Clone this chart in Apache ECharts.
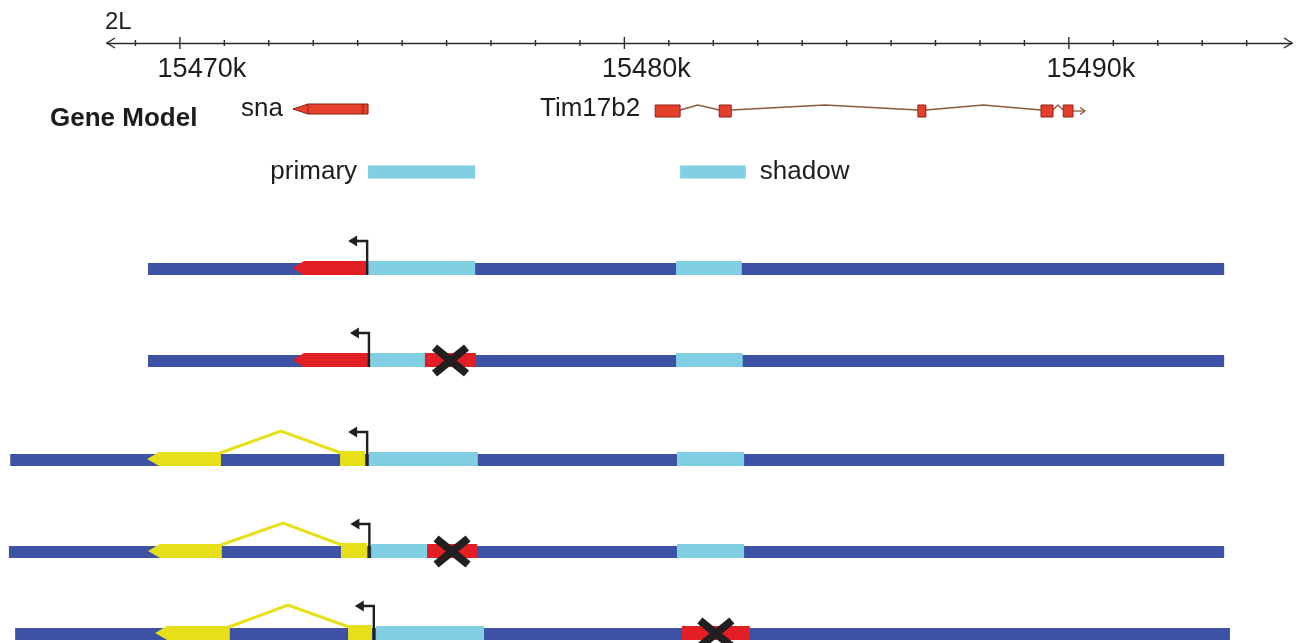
<!DOCTYPE html>
<html><head><meta charset="utf-8">
<script src="https://cdn.jsdelivr.net/npm/echarts@6/dist/echarts.min.js"></script>
<style>html,body{margin:0;padding:0;background:#fff}#c{width:1299px;height:643px}</style>
</head><body><div id="c"></div>
<script>
// ---------------- data (positions in kb on chromosome arm 2L) ----------------
const chromName = '2L';
const rulerTicks = [15469,15470,15471,15472,15473,15474,15475,15476,15477,15478,15479,15480,15481,15482,15483,15484,15485,15486,15487,15488,15489,15490,15491,15492,15493,15494];
const rulerLabels = [15470, 15480, 15490];
const trackTitle = 'Gene Model';
const geneNames = ['sna', 'Tim17b2'];
const snaSpan = [15472.54, 15474.23];                 // minus strand
const tim17b2Exons = [[15480.69,15481.25],[15482.13,15482.40],[15486.60,15486.78],[15489.37,15489.64],[15489.87,15490.09]];
const tim17b2IntronPeaks = [15481.65, 15484.51, 15488.07, 15489.75];
const tim17b2End = 15490.36;
const enhancerNames = ['primary', 'shadow'];
const enhancerSpans = [[15474.23,15476.64],[15481.25,15482.73]];

// constructs (5 rows)
const rowBackbone   = [[15469.28,15493.49],[15469.28,15493.49],[15466.18,15493.49],[15466.15,15493.49],[15466.29,15493.62]];
const rowSnaArrow   = [[15472.54,15474.23],[15472.54,15474.25],null,null,null];
const rowYellowHead = [null,null,[15469.26,15470.92],[15469.28,15470.94],[15469.44,15471.12]];
const rowIntronPeak = [null,null,15472.27,15472.32,15472.43];
const rowYellowExon = [null,null,[15473.60,15474.16],[15473.62,15474.21],[15473.78,15474.32]];
const rowTss        = [15474.21,15474.25,15474.21,15474.26,15474.36];
const rowPrimary    = [[15474.23,15476.64],[15474.25,15475.51],[15474.25,15476.70],[15474.30,15475.56],[15474.41,15476.84]];
const rowShadow     = [[15481.16,15482.64],[15481.16,15482.66],[15481.18,15482.69],[15481.18,15482.69],null];
const rowDeletion   = [null,[15475.51,15476.66],null,[15475.56,15476.68],[15481.29,15482.82]];

// ---------------- layout ----------------
const RULER_MIN = 15468.36, RULER_MAX = 15495.02;
const VIEW_MIN = 15465.95, VIEW_MAX = 15495.174;
const GENE_Y = 110, LEGEND_Y = 172, ROW_Y = [269, 361, 460, 552, 634];
const C = {dark:'#3d52a4', light:'#80cfe2', red:'#e31e25', yellow:'#e7df17', black:'#231f20',
           gene:'#e5402b', geneEdge:'#8e2117', intron:'#8c5a3a', text:'#1d1d1b', axis:'#2a2a2a'};
const FONT = '"Liberation Sans", Arial, Helvetica, sans-serif';

// ---------------- build series data ----------------
const blockData = [];   // [start, end, y, kind]  kind: 0 light, 1 sna arrow, 2 yellow head, 3 yellow exon, 4 deletion
const intronData = [];  // [start, end, y, peak]
const tssData = [];
const xData = [];
for (let i = 0; i < ROW_Y.length; i++) {
  const y = ROW_Y[i];
  if (rowPrimary[i]) blockData.push([rowPrimary[i][0], rowPrimary[i][1], y, 0]);
  if (rowShadow[i]) blockData.push([rowShadow[i][0], rowShadow[i][1], y, 0]);
  if (rowSnaArrow[i]) blockData.push([rowSnaArrow[i][0], rowSnaArrow[i][1], y, 1]);
  if (rowYellowHead[i]) blockData.push([rowYellowHead[i][0], rowYellowHead[i][1], y, 2]);
  if (rowYellowExon[i]) blockData.push([rowYellowExon[i][0], rowYellowExon[i][1], y, 3]);
  if (rowDeletion[i]) { blockData.push([rowDeletion[i][0], rowDeletion[i][1], y, 4]); xData.push([(rowDeletion[i][0]+rowDeletion[i][1])/2, y]); }
  if (rowIntronPeak[i] != null) intronData.push([rowYellowHead[i][1], rowYellowExon[i][0], y, rowIntronPeak[i]]);
  tssData.push([rowTss[i], y]);
}

const chart = echarts.init(document.getElementById('c'), null, {renderer: 'canvas'});

function pt(api, x, y) { return api.coord([x, y]); }

const option = {
  animation: false,
  backgroundColor: '#ffffff',
  grid: [
    {left: 107, top: 0, width: 1185, height: 43},
    {left: 0, top: 0, width: 1299, height: 643}
  ],
  xAxis: [
    {gridIndex: 0, type: 'value', min: RULER_MIN, max: RULER_MAX,
     name: chromName, nameLocation: 'start', nameGap: 2,
     nameTextStyle: {align: 'left', verticalAlign: 'bottom', fontSize: 24, fontFamily: FONT, color: C.text, padding: [0,0,9,0]},
     axisLine: {show: true, lineStyle: {color: C.axis, width: 1.4}},
     axisTick: {show: false}, splitLine: {show: false},
     axisLabel: {customValues: rulerLabels, formatter: v => v + 'k', fontSize: 27, fontFamily: FONT, color: C.text, margin: 13, padding: [0,0,0,44]}},
    {gridIndex: 1, type: 'value', min: VIEW_MIN, max: VIEW_MAX, show: false}
  ],
  yAxis: [
    {gridIndex: 0, type: 'value', min: 0, max: 1, show: false},
    {gridIndex: 1, type: 'value', min: 0, max: 643, inverse: true, show: false}
  ],
  graphic: [
    {type: 'text', left: 50, top: 106, style: {text: trackTitle, fontSize: 26, fontWeight: 'bold', fontFamily: FONT, fill: C.text}}
  ],
  series: [
    // ruler ticks
    {type: 'custom', xAxisIndex: 0, yAxisIndex: 0, silent: true,
     data: rulerTicks.map(v => [v, 0]),
     renderItem(params, api) {
       const v = api.value(0); const p = pt(api, v, 0);
       const len = (v % 10 === 0) ? 6 : 3;
       return {type: 'line', shape: {x1: p[0], y1: p[1]-len, x2: p[0], y2: p[1]+len}, style: {stroke: C.axis, lineWidth: 1.4}};
     }},
    // ruler end chevrons
    {type: 'custom', xAxisIndex: 0, yAxisIndex: 0, silent: true,
     data: [[RULER_MIN, 0, 1], [RULER_MAX, 0, -1]],
     renderItem(params, api) {
       const p = pt(api, api.value(0), 0); const d = api.value(2);
       return {type: 'polyline', shape: {points: [[p[0]+d*8, p[1]-5], [p[0], p[1]], [p[0]+d*8, p[1]+5]]}, style: {stroke: C.axis, lineWidth: 1.4, fill: null}};
     }},
    // gene model: sna
    {type: 'custom', xAxisIndex: 1, yAxisIndex: 1, silent: true,
     data: [[snaSpan[0], snaSpan[1], GENE_Y]],
     renderItem(params, api) {
       const s = pt(api, api.value(0), api.value(2)), e = pt(api, api.value(1), api.value(2));
       const h = 10, y = s[1] - 1, head = 15;
       return {type: 'group', children: [
         {type: 'polygon', shape: {points: [[s[0], y], [s[0]+head, y-h/2], [e[0], y-h/2], [e[0], y+h/2], [s[0]+head, y+h/2]]}, style: {fill: C.gene, stroke: C.geneEdge, lineWidth: 1}},
         {type: 'line', shape: {x1: s[0]+head, y1: y-h/2, x2: s[0]+head, y2: y+h/2}, style: {stroke: C.geneEdge, lineWidth: 1}},
         {type: 'line', shape: {x1: e[0]-5, y1: y-h/2, x2: e[0]-5, y2: y+h/2}, style: {stroke: C.geneEdge, lineWidth: 1}}
       ]};
     }},
    // gene model: Tim17b2 introns
    {type: 'custom', xAxisIndex: 1, yAxisIndex: 1, silent: true,
     data: tim17b2IntronPeaks.map((pk, i) => [tim17b2Exons[i][1], tim17b2Exons[i+1][0], GENE_Y, pk]),
     renderItem(params, api) {
       const y = GENE_Y + 1;
       const a = pt(api, api.value(0), y), b = pt(api, api.value(3), y), c = pt(api, api.value(1), y);
       return {type: 'polyline', shape: {points: [[a[0], a[1]-1], [b[0], b[1]-6], [c[0], c[1]-1]]}, style: {stroke: C.intron, lineWidth: 1.3, fill: null}};
     }},
    // Tim17b2 3' end arrow
    {type: 'custom', xAxisIndex: 1, yAxisIndex: 1, silent: true,
     data: [[tim17b2Exons[tim17b2Exons.length-1][1], tim17b2End, GENE_Y]],
     renderItem(params, api) {
       const a = pt(api, api.value(0), api.value(2)+1), b = pt(api, api.value(1), api.value(2)+1);
       return {type: 'group', children: [
         {type: 'line', shape: {x1: a[0], y1: a[1], x2: b[0], y2: b[1]}, style: {stroke: C.intron, lineWidth: 1.3}},
         {type: 'polyline', shape: {points: [[b[0]-5, b[1]-3.5], [b[0], b[1]], [b[0]-5, b[1]+3.5]]}, style: {stroke: C.intron, lineWidth: 1.3, fill: null}}
       ]};
     }},
    // Tim17b2 exons
    {type: 'custom', xAxisIndex: 1, yAxisIndex: 1, silent: true,
     data: tim17b2Exons.map(e => [e[0], e[1], GENE_Y]),
     renderItem(params, api) {
       const s = pt(api, api.value(0), api.value(2)+1), e = pt(api, api.value(1), api.value(2)+1);
       return {type: 'rect', shape: {x: s[0], y: s[1]-6, width: e[0]-s[0], height: 12}, style: {fill: C.gene, stroke: C.geneEdge, lineWidth: 1}};
     }},
    // gene names
    {type: 'custom', xAxisIndex: 1, yAxisIndex: 1, silent: true,
     data: [[snaSpan[0], GENE_Y, 0, 10], [tim17b2Exons[0][0], GENE_Y, 1, 15]],
     renderItem(params, api) {
       const p = pt(api, api.value(0), api.value(1));
       return {type: 'text', x: p[0]-api.value(3), y: p[1]-1, style: {text: geneNames[api.value(2)], fontSize: 26, fontFamily: FONT, fill: C.text, align: 'right', verticalAlign: 'middle'}};
     }},
    // legend
    {type: 'custom', xAxisIndex: 1, yAxisIndex: 1, silent: true,
     data: enhancerSpans.map((s, i) => [s[0], s[1], LEGEND_Y, i]),
     renderItem(params, api) {
       const s = pt(api, api.value(0), api.value(2)), e = pt(api, api.value(1), api.value(2));
       const i = api.value(3);
       return {type: 'group', children: [
         {type: 'rect', shape: {x: s[0], y: s[1]-6.5, width: e[0]-s[0], height: 13}, style: {fill: C.light}},
         {type: 'text', x: i === 0 ? s[0]-11 : e[0]+14, y: s[1], style: {text: enhancerNames[i], fontSize: 26, fontFamily: FONT, fill: C.text, align: i === 0 ? 'right' : 'left', verticalAlign: 'middle'}}
       ]};
     }},
    // construct backbones
    {type: 'custom', xAxisIndex: 1, yAxisIndex: 1, silent: true,
     data: rowBackbone.map((b, i) => [b[0], b[1], ROW_Y[i]]),
     renderItem(params, api) {
       const s = pt(api, api.value(0), api.value(2)), e = pt(api, api.value(1), api.value(2));
       return {type: 'rect', shape: {x: s[0], y: s[1]-6, width: e[0]-s[0], height: 12}, style: {fill: C.dark}};
     }},
    // yellow introns
    {type: 'custom', xAxisIndex: 1, yAxisIndex: 1, silent: true,
     data: intronData,
     renderItem(params, api) {
       const y = api.value(2);
       const a = pt(api, api.value(0), y), b = pt(api, api.value(3), y), c = pt(api, api.value(1), y);
       const top = a[1] - 8;
       return {type: 'polyline', shape: {points: [[a[0]-1, top+1], [b[0], top-21], [c[0]+1, top+1]]}, style: {stroke: C.yellow, lineWidth: 3, fill: null}};
     }},
    // construct blocks
    {type: 'custom', xAxisIndex: 1, yAxisIndex: 1, silent: true,
     data: blockData,
     renderItem(params, api) {
       const y = api.value(2), k = api.value(3);
       const s = pt(api, api.value(0), y), e = pt(api, api.value(1), y);
       const top = s[1] - 8, bot = s[1] + 6, mid = (top + bot) / 2;
       if (k === 1 || k === 2) {
         const head = k === 1 ? 11 : 12;
         const col = k === 1 ? C.red : C.yellow;
         return {type: 'polygon', shape: {points: [[s[0], mid], [s[0]+head, top], [e[0], top], [e[0], bot], [s[0]+head, bot]]}, style: {fill: col}};
       }
       const col = k === 0 ? C.light : (k === 3 ? C.yellow : C.red);
       const t = k === 3 ? top - 1 : top;
       return {type: 'rect', shape: {x: s[0], y: t, width: e[0]-s[0], height: bot - t}, style: {fill: col}};
     }},
    // TSS arrows
    {type: 'custom', xAxisIndex: 1, yAxisIndex: 1, silent: true,
     data: tssData,
     renderItem(params, api) {
       const p = pt(api, api.value(0), api.value(1));
       const x = p[0], yb = p[1] + 6, yt = p[1] - 28;
       return {type: 'group', children: [
         {type: 'polyline', shape: {points: [[x, yb], [x, yt], [x-11, yt]]}, style: {stroke: C.black, lineWidth: 2.4, fill: null}},
         {type: 'polygon', shape: {points: [[x-19, yt], [x-10, yt-5.5], [x-10, yt+5.5]]}, style: {fill: C.black}}
       ]};
     }},
    // deletion crosses
    {type: 'custom', xAxisIndex: 1, yAxisIndex: 1, silent: true,
     data: xData,
     renderItem(params, api) {
       const p = pt(api, api.value(0), api.value(1));
       const cx = p[0], cy = p[1] - 0.5, w = 16, h = 13;
       const st = {stroke: C.black, lineWidth: 8, lineCap: 'butt'};
       return {type: 'group', children: [
         {type: 'line', shape: {x1: cx-w, y1: cy-h, x2: cx+w, y2: cy+h}, style: st},
         {type: 'line', shape: {x1: cx-w, y1: cy+h, x2: cx+w, y2: cy-h}, style: st}
       ]};
     }}
  ]
};
chart.setOption(option);
</script></body></html>
